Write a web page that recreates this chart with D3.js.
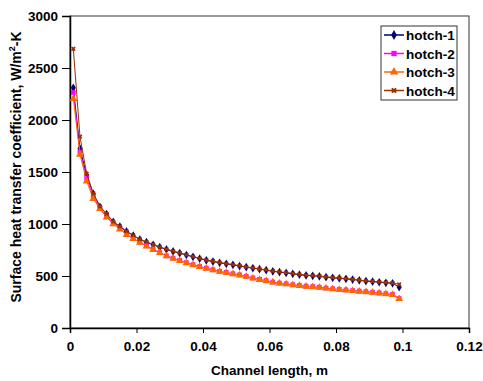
<!DOCTYPE html>
<html>
<head>
<meta charset="utf-8">
<script src="https://cdn.jsdelivr.net/npm/d3@7"></script>
<style>
  body { margin: 0; background: #fff; }
  text { font-family: Arial, "Liberation Sans", sans-serif; font-weight: bold; fill: #000; }
</style>
</head>
<body>
<svg id="chart" width="483" height="381"></svg>
<script>
const xs = [0.001, 0.003, 0.005, 0.007, 0.009, 0.011, 0.013, 0.015, 0.017, 0.019,
  0.021, 0.023, 0.025, 0.027, 0.029, 0.031, 0.033, 0.035, 0.037, 0.039,
  0.041, 0.043, 0.045, 0.047, 0.049, 0.051, 0.053, 0.055, 0.057, 0.059,
  0.061, 0.063, 0.065, 0.067, 0.069, 0.071, 0.073, 0.075, 0.077, 0.079,
  0.081, 0.083, 0.085, 0.087, 0.089, 0.091, 0.093, 0.095, 0.097, 0.099];

const hotch1 = [2310, 1725, 1470, 1290, 1165, 1095, 1020, 975, 928, 889,
  850, 825, 800, 777, 755, 736, 719, 702, 684, 667,
  651, 639, 627, 617, 607, 596, 585, 575, 566, 556,
  545, 537, 530, 521, 513, 506, 502, 497, 489, 483,
  478, 472, 466, 458, 451, 446, 440, 435, 430, 392];

const hotch2 = [2265, 1690, 1440, 1262, 1150, 1072, 1005, 955, 900, 860,
  826, 790, 756, 726, 694, 672, 650, 628, 609, 592,
  576, 560, 545, 534, 522, 511, 497, 481, 468, 456,
  442, 432, 425, 416, 409, 403, 398, 392, 384, 377,
  371, 366, 360, 355, 350, 344, 338, 330, 323, 283];

const hotch3 = [2205, 1668, 1412, 1242, 1146, 1065, 1000, 950, 897, 857,
  823, 787, 753, 723, 691, 669, 647, 625, 606, 589,
  573, 557, 542, 531, 519, 508, 494, 478, 465, 453,
  439, 429, 422, 413, 406, 400, 395, 389, 381, 374,
  368, 363, 357, 352, 347, 341, 335, 327, 320, 280];

const hotch4 = [2685, 1840, 1485, 1295, 1170, 1098, 1023, 978, 931, 892,
  853, 828, 803, 780, 758, 739, 722, 705, 687, 670,
  654, 642, 630, 620, 610, 599, 588, 578, 569, 559,
  548, 540, 533, 524, 516, 509, 505, 500, 492, 486,
  481, 475, 469, 461, 454, 449, 443, 438, 433, 420];

const seriesNames = ["hotch-1", "hotch-2", "hotch-3", "hotch-4"];
const xTicks = [0, 0.02, 0.04, 0.06, 0.08, 0.1, 0.12];
const yTicks = [0, 500, 1000, 1500, 2000, 2500, 3000];

const seriesData = [hotch1, hotch2, hotch3, hotch4];
const colors = ["#000080", "#ff00ff", "#ff6600", "#993300"];
const symbols = [d3.symbolDiamond, d3.symbolSquare, d3.symbolTriangle, d3.symbolCross];
const symSizes = [22, 22, 26, 14];

const svg = d3.select("#chart");
const margin = {top: 16, right: 14, bottom: 53, left: 70};
const width = 483, height = 381;
const innerWidth = width - margin.left - margin.right;
const innerHeight = height - margin.top - margin.bottom;

const x = d3.scaleLinear().domain([0, 0.12]).range([0, innerWidth]);
const y = d3.scaleLinear().domain([0, 3000]).range([innerHeight, 0]);

const g = svg.append("g").attr("transform", `translate(${margin.left},${margin.top})`);

// frame
g.append("rect")
  .attr("x", 0).attr("y", 0)
  .attr("width", innerWidth).attr("height", innerHeight)
  .attr("fill", "none").attr("stroke", "#333").attr("stroke-width", 1);

// axes
const yAxis = g.append("g")
  .call(d3.axisLeft(y).tickValues(yTicks).tickSize(8).tickPadding(4).tickFormat(d3.format("d")));

const xAxis = g.append("g")
  .attr("transform", `translate(0,${innerHeight})`)
  .call(d3.axisBottom(x).tickValues(xTicks).tickSize(5).tickPadding(8)
    .tickFormat(d => d === 0 ? "0" : String(+d.toFixed(2))));

[yAxis, xAxis].forEach(a => {
  a.select(".domain").attr("stroke", "#000").attr("stroke-width", 1.5);
  a.selectAll(".tick line").attr("stroke", "#000");
  a.selectAll("text").attr("font-family", null).attr("font-size", null)
    .style("font-size", "13.5px");
});

// series
const line = d3.line().x((d, i) => x(xs[i])).y(d => y(d));

seriesData.forEach((vals, si) => {
  const sg = g.append("g");
  sg.append("path")
    .datum(vals)
    .attr("fill", "none")
    .attr("stroke", colors[si])
    .attr("stroke-width", 1)
    .attr("d", line);
  sg.selectAll("path.m")
    .data(vals)
    .enter().append("path")
      .attr("class", "m")
      .attr("transform", (d, i) => `translate(${x(xs[i])},${y(d)})` + (si === 3 ? " rotate(45)" : ""))
      .attr("d", d3.symbol().type(symbols[si]).size(symSizes[si]))
      .attr("fill", colors[si]);
});

// axis titles
svg.append("text")
  .attr("x", margin.left + innerWidth / 2)
  .attr("y", 375)
  .attr("text-anchor", "middle")
  .style("font-size", "13.5px")
  .text("Channel length, m");

const yt = svg.append("text")
  .attr("transform", "translate(21,167) rotate(-90)")
  .attr("text-anchor", "middle")
  .style("font-size", "14px");
yt.append("tspan").text("Surface heat transfer coefficient, W/m");
yt.append("tspan").attr("dy", -6).style("font-size", "9px").text("2");
yt.append("tspan").attr("dy", 6).text("-K");

// legend
const lg = svg.append("g").attr("transform", "translate(381,26)");
lg.append("rect")
  .attr("width", 76).attr("height", 74)
  .attr("fill", "#fff").attr("stroke", "#333").attr("stroke-width", 1);
seriesNames.forEach((name, i) => {
  const ly = 9 + i * 18.5;
  lg.append("line")
    .attr("x1", 3).attr("x2", 23).attr("y1", ly).attr("y2", ly)
    .attr("stroke", colors[i]).attr("stroke-width", 1.5);
  lg.append("path")
    .attr("transform", `translate(13,${ly})` + (i === 3 ? " rotate(45)" : ""))
    .attr("d", d3.symbol().type(symbols[i]).size(symSizes[i] + 6))
    .attr("fill", colors[i]);
  lg.append("text")
    .attr("x", 25).attr("y", ly + 5)
    .style("font-size", "13.5px")
    .text(name);
});
</script>
</body>
</html>
